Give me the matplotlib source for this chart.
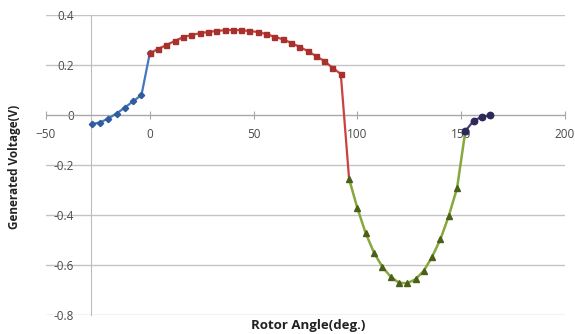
import matplotlib.pyplot as plt

plt.rcParams['font.family'] = ['Open Sans', 'DejaVu Sans']

# series 1 (blue diamonds)
ang1 = [-28, -24, -20, -16, -12, -8, -4, 0]
volt1 = [-0.036, -0.030, -0.014, 0.006, 0.030, 0.055, 0.080, 0.247]

# series 2 (red squares)
ang2 = [0, 4, 8, 12, 16, 20, 24, 28, 32, 36, 40, 44, 48, 52, 56, 60,
        64, 68, 72, 76, 80, 84, 88, 92, 96]
volt2 = [0.247, 0.264, 0.280, 0.296, 0.311, 0.320, 0.327, 0.332, 0.336,
         0.339, 0.340, 0.339, 0.336, 0.332, 0.324, 0.313, 0.303, 0.289,
         0.273, 0.256, 0.236, 0.216, 0.189, 0.164, -0.256]

# series 3 (green triangles)
ang3 = [96, 100, 104, 108, 112, 116, 120, 124, 128, 132, 136, 140, 144, 148, 152]
volt3 = [-0.256, -0.373, -0.473, -0.551, -0.607, -0.647, -0.671, -0.673,
         -0.657, -0.623, -0.567, -0.497, -0.404, -0.293, -0.064]

# series 4 (purple dots)
ang4 = [152, 156, 160, 164]
volt4 = [-0.064, -0.023, -0.007, -0.001]

xticks = [-50, 0, 50, 100, 150, 200]
yticks = [-0.8, -0.6, -0.4, -0.2, 0, 0.2, 0.4]
yticklabels = ['-0.8', '-0.6', '-0.4', '-0.2', '0', '0.2', '0.4']

fig = plt.figure(figsize=(5.75, 3.34), dpi=100)
ax = fig.add_axes([46/575, 19/334, 519/575, 300/334])

ax.plot(ang1, volt1, color='#4477BF', lw=1.6, marker='D', ms=3.2,
        mfc='#2F5C9E', mec='#2F5C9E', zorder=3)
ax.plot(ang2, volt2, color='#C8423F', lw=1.6, zorder=3)
ax.plot(ang2[:-1], volt2[:-1], ls='none', marker='s', ms=3.6,
        mfc='#A8302D', mec='#A8302D', zorder=4)
ax.plot(ang3, volt3, color='#86A83C', lw=1.8, marker='^', ms=4,
        mfc='#4A5F1A', mec='#4A5F1A', zorder=3)
ax.plot(ang4, volt4, color='#4B3F7A', lw=1.6, marker='o', ms=4.6,
        mfc='#2D2A5A', mec='#2D2A5A', zorder=4)

ax.set_xlim(-50, 200)
ax.set_ylim(-0.8, 0.4)
ax.set_xticks(xticks)
ax.set_yticks(yticks)
ax.set_yticklabels(yticklabels)

for y in yticks:
    ax.axhline(y, color='#C4C4C4', lw=1, zorder=1)

for s in ['top', 'right']:
    ax.spines[s].set_visible(False)
ax.spines['bottom'].set_position(('data', 0))
ax.spines['bottom'].set_color('#A8A8A8')
ax.spines['left'].set_position(('data', -28.5))
ax.spines['left'].set_color('#BDBDBD')
ax.spines['left'].set_bounds(-0.8, 0.4)

ax.tick_params(axis='x', direction='inout', length=6, color='#A8A8A8',
               labelsize=8.5, labelcolor='#4A4A4A', pad=6)
ax.tick_params(axis='y', length=0, labelsize=8.5, labelcolor='#4A4A4A', pad=12)

fig.text(15/575, 0.5, 'Generated Voltage(V)', rotation=90, ha='center',
         va='center', fontsize=8.5, fontweight='bold', color='#222222')
fig.text(308/575, 1 - 325/334, 'Rotor Angle(deg.)', ha='center', va='center',
         fontsize=9.5, fontweight='bold', color='#222222')

fig.savefig('out.png', dpi=100)
